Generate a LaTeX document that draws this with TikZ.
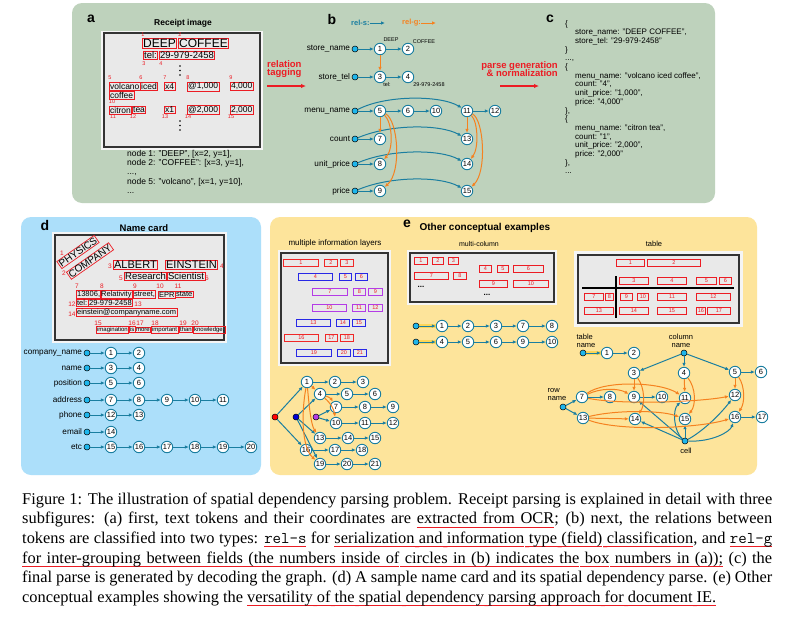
\documentclass[tikz,border=0pt]{standalone}
\usepackage{fontspec}
\setmainfont{Liberation Serif}
\setsansfont{Liberation Sans}
\renewcommand{\familydefault}{\sfdefault}
\usetikzlibrary{positioning,arrows.meta}

\definecolor{pgreen}{RGB}{190,210,188}
\definecolor{pblue}{RGB}{172,223,250}
\definecolor{pyellow}{RGB}{253,228,155}
\definecolor{rels}{RGB}{26,126,160}
\definecolor{relg}{RGB}{245,130,32}
\definecolor{fieldc}{RGB}{30,182,236}
\definecolor{boxred}{RGB}{236,28,36}
\definecolor{cardbg}{RGB}{233,233,233}
\definecolor{lr}{RGB}{240,40,40}
\definecolor{lb}{RGB}{40,40,230}
\definecolor{lp}{RGB}{180,60,230}

\newcommand{\fsz}[1]{\fontsize{#1}{#1}\selectfont}
\newcommand{\ulword}[1]{\setbox0\hbox{#1}\rlap{\textcolor{boxred}{\rule[-3.8pt]{\wd0}{0.9pt}}}\box0\relax}
\newcommand{\ulspace}{\leaders\hbox{\textcolor{boxred}{\rule[-3.8pt]{0.2pt}{0.9pt}}}\hskip\fontdimen2\font plus\fontdimen3\font minus\fontdimen4\font\relax}
\makeatletter
\def\redul#1{\redul@a#1 \redul@end}
\def\redul@a#1 #2\redul@end{\ulword{#1}\ifx\relax#2\relax\else\ulspace\redul@a#2\redul@end\fi}
\makeatother

\begin{document}
\begin{tikzpicture}[x=1pt,y=-1pt,
  num/.style={circle,draw=rels,fill=white,line width=0.9pt,inner sep=0pt,minimum size=11.5pt,font=\fsz{7.5}},
  fld/.style={circle,draw=black,fill=fieldc,line width=0.5pt,inner sep=0pt,minimum size=6pt},
  rs/.style={rels,line width=1pt,-{Latex[length=4pt,width=3.5pt]}},
  rg/.style={relg,line width=1pt,-{Latex[length=4pt,width=3.5pt]}},
  lbl/.style={font=\fsz{8.2},inner sep=0pt},
  tok/.style={draw=boxred,line width=0.7pt,inner sep=0.8pt,anchor=west},
  tnum/.style={text=boxred,font=\fsz{5.5},inner sep=0pt},
  lay/.style={line width=0.9pt,minimum height=7.5pt,inner sep=0pt,anchor=west,text=boxred,font=\fsz{5.5}},
  ttl/.style={font=\bfseries\fsz{8.5}},
  panel/.style={font=\bfseries\fsz{14}},
  small/.style={font=\fsz{5.5},inner sep=0pt}]
\useasboundingbox (0,0) rectangle (787,616);
\fill[white] (0,0) rectangle (787,616);

\fill[pgreen,rounded corners=10pt] (72,3) rectangle (715,203);
\fill[pblue,rounded corners=10pt] (21,217) rectangle (261,475);
\fill[pyellow,rounded corners=10pt] (270,217) rectangle (757,475);

% receipt
\node[panel] (la) at (91,19) {a};
\node[ttl] (ra) at (183,23) {Receipt image};
\fill[black!4] (101,31) rectangle (263,150);
\draw[fill=cardbg,draw=black!80,line width=1.2pt] (104,33) rectangle (260,147);
\node[tok,font=\fsz{12}] (r1) at (142,43.5) {DEEP};
\node[tok,font=\fsz{12}] (r2) at (178,43.5) {COFFEE};
\node[tok,font=\fsz{9.5}] (r3) at (143,55.5) {tel:};
\node[tok,font=\fsz{9.5}] (r4) at (159,55.5) {29-979-2458};
\node[tok,font=\fsz{8.5}] (r5) at (109,86.5) {volcano};
\node[tok,font=\fsz{8.5}] (r6) at (140,86.5) {iced};
\node[tok,font=\fsz{8.5}] (r7) at (164,86.5) {x4};
\node[tok,font=\fsz{8.5}] (r8) at (187,86.5) {@1,000};
\node[tok,font=\fsz{8.5}] (r9) at (230,86.5) {4,000};
\node[tok,font=\fsz{8.5}] (r10) at (109,95.5) {coffee};
\node[tok,font=\fsz{8.5}] (r11) at (109,110) {citron};
\node[tok,font=\fsz{8.5}] (r12) at (132,110) {tea};
\node[tok,font=\fsz{8.5}] (r13) at (164,110) {x1};
\node[tok,font=\fsz{8.5}] (r14) at (187,110) {@2,000};
\node[tok,font=\fsz{8.5}] (r15) at (230,110) {2,000};
\foreach \n/\x/\y in {1/143/35,2/180/35,3/144/64,4/161/64,5/110/78,6/141/78,7/165/78,8/188/78,9/231/78,10/112/102,11/113/117,12/133/117,13/165/117,14/188/117,15/231/117}
  \node[tnum] (rn\n) at (\x,\y) {\n};
\foreach \k in {0,1,2}
{
  \fill (180,66+4.5*\k) circle (0.9pt);
  \fill (180,121+4.5*\k) circle (0.9pt);
}
\node[anchor=north west,align=left,inner sep=0pt,font=\fontsize{8.5}{9.3}\selectfont] (nodelist) at (127,150)
  {node 1: "DEEP", [x=2, y=1],\\node 2: "COFFEE": [x=3, y=1],\\...,\\node 5: "volcano", [x=1, y=10],\\...};

\node[font=\bfseries\fsz{9.5},text=boxred,align=left,anchor=west,inner sep=0pt] (rtag) at (267,69) {relation\\[-1pt]tagging};
\coordinate (rtA) at (267,86);
\coordinate (rtB) at (306,86);
\draw[boxred,line width=1.3pt,-{Latex[length=5pt,width=4.5pt]}] (rtA) -- (rtB);
\node[font=\bfseries\fsz{9.5},text=boxred,align=right,anchor=east,inner sep=0pt] (pgen) at (558,69) {parse generation\\[-1pt]\& normalization};
\coordinate (pgA) at (500,86);
\coordinate (pgB) at (539,86);
\draw[boxred,line width=1.3pt,-{Latex[length=5pt,width=4.5pt]}] (pgA) -- (pgB);

% graph b
\node[panel] (lb) at (332,19) {b};
\node[font=\bfseries\fsz{7.5},text=rels,anchor=west,inner sep=0pt] (legs) at (351,23) {rel-s:};
\coordinate (legsE) at (385,23);
\draw[rs] (legs) -- (legsE);
\node[font=\bfseries\fsz{7.5},text=relg,anchor=west,inner sep=0pt] (legg) at (402,23) {rel-g:};
\coordinate (leggE) at (436,23);
\draw[rg] (legg) -- (leggE);
\foreach \nm/\lab/\y in {bsn/store\_name/49,bst/store\_tel/77,bmn/menu\_name/111,bct/count/139,bup/unit\_price/164,bpr/price/191}
{
  \node[fld] (\nm) at (355,\y) {};
  \node[lbl,left=1.5pt of \nm] (l\nm) {\lab};
}
\foreach \n/\x/\y in {1/380/49,2/408/49,3/380/77,4/408/77,5/380/111,6/408/111,10/436/111,11/467/111,12/495/111,7/380/139,13/467/139,8/380/164,14/467/164,9/380/191,15/467/191}
  \node[num] (b\n) at (\x,\y) {\n};
\node[small] (bdeep) at (391,40) {DEEP};
\node[small] (bcof) at (424,42) {COFFEE};
\node[small] (btel) at (387,85) {tel:};
\node[small] (bph) at (429,85) {29-979-2458};
\foreach \a/\b in {bsn/b1,b1/b2,bst/b3,b3/b4,bmn/b5,b5/b6,b6/b10,b11/b12,bct/b7,bup/b8,bpr/b9}
  \draw[rs] (\a) -- (\b);
\draw[rs] (bmn) .. controls (385,95) and (440,95) .. (b11);
\draw[rs] (bct) .. controls (390,124) and (440,124) .. (b13);
\draw[rs] (bup) .. controls (390,149) and (440,149) .. (b14);
\draw[rs] (bpr) .. controls (390,176) and (440,176) .. (b15);
\draw[rg] (b1) -- (b3);
\draw[rg] (b5) -- (b7);
\draw[rg] (b5) .. controls (392,122) and (394,148) .. (b8);
\draw[rg] (b5) .. controls (398,120) and (402,172) .. (b9);
\draw[rg] (b11) -- (b13);
\draw[rg] (b11) .. controls (478,122) and (479,148) .. (b14);
\draw[rg] (b11) .. controls (484,120) and (487,172) .. (b15);

% parse c
\node[panel] (lc) at (550,19) {c};
\node[anchor=north west,align=left,inner sep=0pt,font=\fontsize{8}{8.7}\selectfont] (json) at (565,20)
  {\{\\
   \hspace*{10pt}store\_name: "DEEP COFFEE",\\
   \hspace*{10pt}store\_tel: "29-979-2458"\\
   \}\\
   ...,\\
   \{\\
   \hspace*{10pt}menu\_name: "volcano iced coffee",\\
   \hspace*{10pt}count: "4",\\
   \hspace*{10pt}unit\_price: "1,000",\\
   \hspace*{10pt}price: "4,000"\\
   \},\\
   \{\\
   \hspace*{10pt}menu\_name: "citron tea",\\
   \hspace*{10pt}count: "1",\\
   \hspace*{10pt}unit\_price: "2,000",\\
   \hspace*{10pt}price: "2,000"\\
   \},\\
   ...};

% name card d
\node[panel] (ld) at (45,225) {d};
\node[ttl,font=\bfseries\fsz{9.5}] (nc) at (144,228) {Name card};
\fill[black!4] (52,232) rectangle (227,343);
\draw[fill=cardbg,draw=black!80,line width=1.2pt] (55,235) rectangle (224,340);
\node[tok,anchor=center,rotate=35,font=\fsz{10}] (c1) at (78,252) {PHYSICS};
\node[tok,anchor=center,rotate=35,font=\fsz{10}] (c2) at (90,261) {COMPANY};
\node[tok,font=\fsz{11}] (c3) at (113,265) {ALBERT};
\node[tok,font=\fsz{11}] (c4) at (165,265) {EINSTEIN};
\node[tok,font=\fsz{9.5}] (c5) at (124,276.5) {Research};
\node[tok,font=\fsz{9.5}] (c6) at (167,276.5) {Scientist};
\node[tok,font=\fsz{7.5}] (c7) at (76,294.5) {13806,};
\node[tok,font=\fsz{7.5}] (c8) at (100,294.5) {Relativity};
\node[tok,font=\fsz{7.5}] (c9) at (133,294.5) {street,};
\node[tok,font=\fsz{7.5}] (c10) at (158,294.5) {EPR};
\node[tok,font=\fsz{7.5}] (c11) at (175,294.5) {state};
\node[tok,font=\fsz{7.5}] (c12) at (76,303) {tel:};
\node[tok,font=\fsz{7.5}] (c13) at (88,303) {29-979-2458};
\node[tok,font=\fsz{7.5}] (c14) at (76,312.5) {einstein@companyname.com};
\node[tok,font=\fsz{6}] (c15) at (96,329.5) {imagination};
\node[tok,font=\fsz{6}] (c16) at (129,329.5) {is};
\node[tok,font=\fsz{6}] (c17) at (135,329.5) {more};
\node[tok,font=\fsz{6}] (c18) at (151,329.5) {important};
\node[tok,font=\fsz{6}] (c19) at (179,329.5) {than};
\node[tok,font=\fsz{6}] (c20) at (193,329.5) {knowledge.};
\foreach \n/\x/\y in {1/62/253,2/64/273,3/110/266,4/222/266,5/121/278,6/207/278,7/77/286,8/102/286,9/135/286,10/160/286,11/178/286,12/72/304,13/138/304,14/72/314,15/98/323,16/132/323,17/140/323,18/155/323,19/183/323,20/195/323}
  \node[tnum,font=\fsz{6.5}] (cn\n) at (\x,\y) {\n};
\foreach \lab/\y/\a/\b [count=\r] in {company\_name/353/1/2,name/368/3/4,position/383/5/6,address/400/7/11,phone/415/12/13,email/432/14/14,etc/447/15/20}
{
  \node[fld] (dd\r) at (87,\y) {};
  \node[lbl,left=1.5pt of dd\r] (ldd\r) {\lab};
  \foreach \n [count=\k] in {\a,...,\b}
  {
    \node[num] (dn\n) at (83+28*\k,\y) {\n};
    \pgfmathtruncatemacro{\p}{\n-1}
    \ifnum\k=1 \draw[rs] (dd\r) -- (dn\n); \else \draw[rs] (dn\p) -- (dn\n); \fi
  }
}

% other examples e
\node[panel] (le) at (407,224) {e};
\node[ttl,font=\bfseries\fsz{10},anchor=west] (oce) at (416,228) {Other conceptual examples};

% multiple layers
\node[font=\fsz{8}] (mlt) at (335,243) {multiple information layers};
\fill[black!4] (278,250) rectangle (391,366);
\draw[fill=cardbg,draw=black!80,line width=1.2pt] (281,253) rectangle (388,363);
\foreach \n/\x/\y/\w/\c in {1/283/263/35/lr,2/324/263/13/lr,3/340/263/13/lr,4/298/277/34/lb,5/339/277/12/lb,6/355/277/12/lb,7/312/292/35/lp,8/353/292/12/lp,9/368/292/14/lp,10/312/308/34/lp,11/352/308/13/lp,12/368/308/14/lp,13/296/323/34/lb,14/336/323/13/lb,15/352/323/13/lb,16/284/338/34/lr,17/325/338/12/lr,18/340/338/13/lr,19/296/353/35/lb,20/337/353/13/lb,21/353/353/13/lb}
  \node[lay,draw=\c,minimum width=\w] (ly\n) at (\x,\y) {\n};
\node[fld,fill=red] (mr) at (275,417) {};
\node[fld,fill=blue!85!black] (mb) at (296,417) {};
\node[fld,fill=lp] (mp) at (316,417) {};
\foreach \n/\x/\y in {1/307/382,2/335/382,3/363/382,4/320/394,5/347/394,6/375/394,7/336/407,8/365/407,9/393/407,10/336/423,11/365/423,12/393/423,13/320/438,14/348/438,15/375/438,16/306/450,17/335/450,18/362/450,19/320/464,20/347/464,21/375/464}
  \node[num] (m\n) at (\x,\y) {\n};
\foreach \a/\b in {mr/m1,mr/m16,mb/m4,mb/m13,mb/m19,mp/m7,mp/m10,m1/m2,m2/m3,m4/m5,m5/m6,m7/m8,m8/m9,m10/m11,m11/m12,m13/m14,m14/m15,m16/m17,m17/m18,m19/m20,m20/m21}
  \draw[rs] (\a) -- (\b);
\draw[rg] (m1) -- (m4);
\draw[rg] (m4) to[bend left=20] (m7);
\draw[rg] (m4) to[bend left=20] (m10);
\draw[rg] (m1) .. controls (309,405) and (311,425) .. (m13);
\draw[rg] (m1) .. controls (301,415) and (302,448) .. (m19);

% multi-column
\node[font=\fsz{7}] (mct) at (479,244) {multi-column};
\fill[black!4] (407,250) rectangle (557,305);
\draw[fill=cardbg,draw=black!80,line width=1.2pt] (410,253) rectangle (554,302);
\foreach \n/\x/\y/\w in {1/414/261/13,2/432/261/11,3/448/261/10,7/414/276/34,8/453/276/13,4/479/269/12,5/497/269/11,6/513/269/30,9/479/284/28,10/513/284/35}
  \node[lay,draw=boxred,minimum width=\w] (mc\n) at (\x,\y) {\n};
\node[font=\bfseries\fsz{8}] (mcd1) at (421,287) {...};
\node[font=\bfseries\fsz{8}] (mcd2) at (487,295) {...};
\node[fld] (qd1) at (416,326) {};
\node[fld] (qd2) at (416,342) {};
\foreach \n/\x/\y in {1/442/326,2/468/326,3/496/326,7/523/326,8/552/326,4/442/342,5/468/342,6/496/342,9/523/342,10/552/342}
  \node[num] (q\n) at (\x,\y) {\n};
\draw[yellow!60!orange,line width=3.5pt,opacity=.45] (qd1) -- (q1) (qd2) -- (q4);
\foreach \a/\b in {qd1/q1,q1/q2,q2/q3,q3/q7,q7/q8,qd2/q4,q4/q5,q5/q6,q6/q9,q9/q10}
  \draw[rs] (\a) -- (\b);

% table
\node[font=\fsz{7.5}] (tbt) at (654,244) {table};
\fill[black!4] (574,251) rectangle (743,327);
\draw[fill=cardbg,draw=black!80,line width=1.2pt] (578,255) rectangle (739,323);
\foreach \n/\x/\y/\w in {1/616/263/28,2/647/263/53,3/619/281/29,4/657/281/29,5/696/281/20,6/719/281/12,7/584/297/19,8/605/297/8,9/620/297/12,10/637/297/11,11/657/297/29,12/696/297/34,13/584/311/29,14/619/311/29,15/657/311/29,16/696/311/9,17/707/311/23}
  \node[lay,draw=boxred,minimum width=\w] (tb\n) at (\x,\y) {\n};
\draw[black,line width=1.6pt] (616,276) -- (616,318) (582,288) -- (734,288);

\node[fld] (tn) at (583,353) {};
\node[fld] (cn) at (684,353) {};
\node[fld] (rn) at (563,407) {};
\node[fld] (cl) at (685,441) {};
\node[font=\fontsize{7.5}{8}\selectfont,align=left,inner sep=0pt] (tnl) at (586,341) {table\\name};
\node[font=\fontsize{7.5}{8}\selectfont,align=center,inner sep=0pt] (cnl) at (681,341) {column\\name};
\node[font=\fontsize{7.5}{8}\selectfont,align=left,inner sep=0pt] (rnl) at (557,395) {row\\name};
\node[font=\fsz{7.5},inner sep=0pt] (cll) at (686,451) {cell};
\foreach \n/\x/\y in {1/607/353,2/634/353,3/634/373,4/684/373,5/735/372,6/761/372,7/582/397,8/610/397,9/634/397,10/662/397,11/685/398,12/735/395,13/583/418,14/635/419,15/685/419,16/735/417,17/762/417}
  \node[num] (t\n) at (\x,\y) {\n};
\draw[yellow!60!orange,line width=3.5pt,opacity=.45] (tn) -- (t1);
\foreach \a/\b in {tn/t1,t1/t2,cn/t3,cn/t4,cn/t5,t5/t6,rn/t7,rn/t13,t7/t8,t9/t10,t16/t17,cl/t9,cl/t14,cl/t15}
  \draw[rs] (\a) -- (\b);
\draw[rs] (cl) .. controls (674,432) and (672,410) .. (t11);
\draw[rs] (cl) .. controls (705,430) and (722,412) .. (t12);
\draw[rs] (cl) .. controls (712,442) and (730,432) .. (t16);
\draw[rg] (t3) -- (t9);
\draw[rg] (t3) .. controls (645,388) and (645,405) .. (t14);
\draw[rg] (t4) -- (t11);
\draw[rg] (t4) .. controls (696,388) and (696,405) .. (t15);
\draw[rg] (t5) -- (t12);
\draw[rg] (t5) .. controls (745,386) and (745,403) .. (t16);
\draw[rg] (t7) .. controls (600,388) and (618,388) .. (t9);
\draw[rg] (t7) .. controls (605,380) and (660,382) .. (t11);
\draw[rg] (t7) .. controls (620,405) and (700,402) .. (t12);
\draw[rg] (t13) -- (t14);
\draw[rg] (t13) .. controls (615,410) and (660,410) .. (t15);
\draw[rg] (t13) .. controls (620,432) and (700,428) .. (t16);

% caption
\node[anchor=north west,inner sep=0pt,text width=750pt,align=justify,font=\rmfamily\fontsize{16.4}{19.6}\selectfont] (cap) at (22,492.5)
{Figure 1: The illustration of spatial dependency parsing problem. Receipt parsing is explained in detail with three\linebreak
subfigures: (a) first, text tokens and their coordinates are \redul{extracted from OCR}; (b) next, the relations between\linebreak
tokens are classified into two types: \texttt{\redul{rel-s}} for \redul{serialization and information type (field) classification}, and \texttt{\redul{rel-g}}\linebreak
\redul{for inter-grouping between fields (the numbers inside of circles in (b) indicates the box numbers in (a));} (c) the\linebreak
final parse is generated by decoding the graph. (d) A sample name card and its spatial dependency parse. (e) Other\linebreak
conceptual examples showing the \redul{versatility of the spatial dependency parsing approach for document IE.}};
\end{tikzpicture}
\end{document}
